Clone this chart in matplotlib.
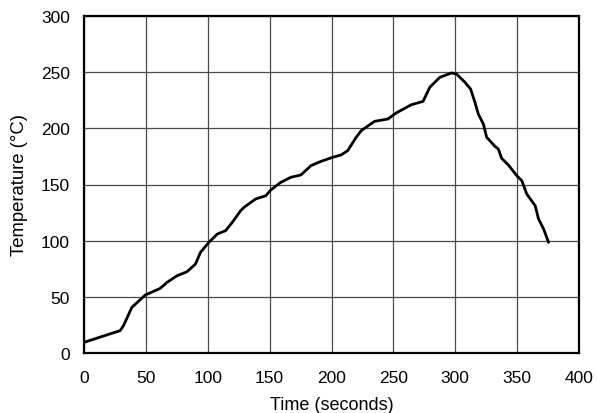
import matplotlib
matplotlib.use("Agg")
import matplotlib.pyplot as plt

plt.rcParams["font.family"] = ["Liberation Sans", "DejaVu Sans"]

time_s = [0, 29.2, 31.9, 38.7, 49.5, 61.7, 67.1, 75.2, 83.3, 90.1, 94.1, 100.9,
          107.7, 114.4, 119.8, 126.6, 129.3, 138.7, 146.9, 150.9, 159.0, 167.1,
          175.3, 183.4, 191.5, 200.9, 207.7, 213.1, 219.9, 224.0, 234.7, 245.5,
          252.3, 264.5, 274.0, 279.4, 287.5, 297.0, 301.0, 307.8, 312.4, 315.9,
          318.6, 322.7, 325.4, 332.1, 334.8, 337.5, 342.9, 349.7, 353.8, 357.8,
          364.6, 367.3, 371.4, 375.4]
temp_c = [9.5, 19.9, 24.3, 40.7, 51.6, 57.6, 62.9, 68.8, 72.4, 79.2, 89.6, 98.5,
          105.9, 108.9, 116.3, 126.7, 129.7, 137.1, 140.0, 145.1, 151.9, 156.4,
          158.5, 166.8, 170.6, 174.2, 176.3, 180.1, 192.0, 197.9, 206.2, 208.3,
          213.7, 221.0, 224.0, 236.5, 245.4, 249.3, 248.4, 241.0, 235.0, 223.2,
          212.8, 203.9, 192.0, 184.0, 181.6, 173.3, 167.4, 157.9, 153.4, 141.5,
          131.1, 119.3, 110.4, 98.5]

fig = plt.figure(figsize=(5.97, 4.14), dpi=100)
ax = fig.add_axes([84 / 597, 60 / 414, 495 / 597, 337 / 414])

ax.plot(time_s, temp_c, color="black", linewidth=2.0,
        solid_joinstyle="round", solid_capstyle="round")

ax.set_xlim(0, 400)
ax.set_ylim(0, 300)
ax.set_xticks(range(0, 401, 50))
ax.set_yticks(range(0, 301, 50))
ax.grid(True, color="#4a4a4a", linewidth=0.9)
ax.set_axisbelow(True)
ax.tick_params(length=0, labelsize=12.5)
ax.tick_params(axis="x", pad=12)
ax.tick_params(axis="y", pad=10)
for sp in ax.spines.values():
    sp.set_linewidth(1.6)
    sp.set_color("black")

ax.set_xlabel("Time (seconds)", fontsize=13)
ax.set_ylabel("Temperature (°C)", fontsize=13.3)
ax.xaxis.set_label_coords(0.5, -0.128)
ax.yaxis.set_label_coords(-0.113, 0.50)

fig.savefig("out.png", dpi=100, facecolor="white")
